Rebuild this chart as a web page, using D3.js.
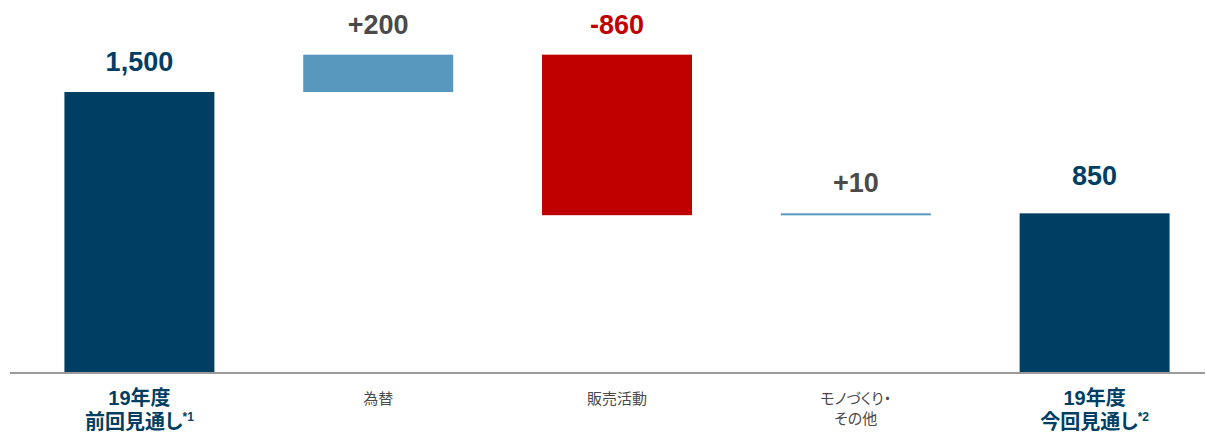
<!DOCTYPE html>
<html><head><meta charset="utf-8">
<script src="https://cdn.jsdelivr.net/npm/d3@7"></script>
<style>body{margin:0;background:#fff;} svg{display:block;} text{font-feature-settings:"palt";}</style>
</head><body>
<svg id="c" width="1206" height="432"></svg>
<script>
const categories = ["total1","fx","sales","mono","total2"];
const labelLines = [["19年度","前回見通し"],["為替"],["販売活動"],["モノづくり・","その他"],["19年度","今回見通し"]];
const footnotes = ["*1","","","","*2"];
const deltas = [1500, 200, -860, 10, 850];
const kinds = ["total","up","down","up","total"];
const valueLabels = ["1,500","+200","-860","+10","850"];

const colors = {total:"#003F63", up:"#5897BE", down:"#C00000"};
const labelColors = {total:"#003F63", up:"#4A4A4A", down:"#C00000"};

let run = 0;
const bars = categories.map((c,i)=>{
  let y0, y1;
  if (kinds[i]==="total") { y0 = 0; y1 = deltas[i]; run = deltas[i]; }
  else { y0 = run; y1 = run + deltas[i]; run = y1; }
  return {c, i, lo:Math.min(y0,y1), hi:Math.max(y0,y1), kind:kinds[i]};
});

const svg = d3.select("#c");
const baseY = 372;
const y = d3.scaleLinear().domain([0,1500]).range([baseY, 92]);
const x = d3.scaleBand().domain(categories).range([20,1214]).paddingInner(0.372).paddingOuter(0.186);

svg.selectAll("rect.bar").data(bars).join("rect")
  .attr("x", d=>x(d.c)).attr("width", x.bandwidth())
  .attr("y", d=>y(d.hi))
  .attr("height", d=>Math.max(2, y(d.lo)-y(d.hi)))
  .attr("fill", d=>colors[d.kind]);

svg.append("line").attr("x1",10).attr("x2",1205).attr("y1",baseY+1).attr("y2",baseY+1)
  .attr("stroke","#9B9B9B").attr("stroke-width",2);

svg.selectAll("text.val").data(bars).join("text")
  .attr("x", d=>x(d.c)+x.bandwidth()/2)
  .attr("y", d=>y(d.hi)-(d.i===4?28:21))
  .attr("text-anchor","middle")
  .attr("font-family","'Liberation Sans', Arial, sans-serif")
  .attr("font-weight","bold").attr("font-size",27)
  .attr("fill", d=>labelColors[d.kind])
  .text(d=>valueLabels[d.i]);

bars.forEach(d=>{
  const cx = x(d.c)+x.bandwidth()/2;
  const isTotal = d.kind==="total";
  const lines = labelLines[d.i];
  lines.forEach((ln,k)=>{
    const t = svg.append("text")
      .attr("x", cx)
      .attr("y", isTotal ? 405 + k*23.5 : 404 + k*20)
      .attr("text-anchor","middle")
      .attr("font-family","'Liberation Sans', 'Noto Sans CJK JP', sans-serif")
      .attr("font-weight", isTotal ? "bold":"normal")
      .attr("font-size", isTotal ? 20 : 15)
      .attr("fill", isTotal ? "#003F63" : "#4A4A4A");
    t.append("tspan").text(ln);
    if (isTotal && k===1 && footnotes[d.i]) {
      t.append("tspan").attr("font-size",12).attr("dy",-8).text(footnotes[d.i]);
    }
  });
});
</script>
</body></html>
